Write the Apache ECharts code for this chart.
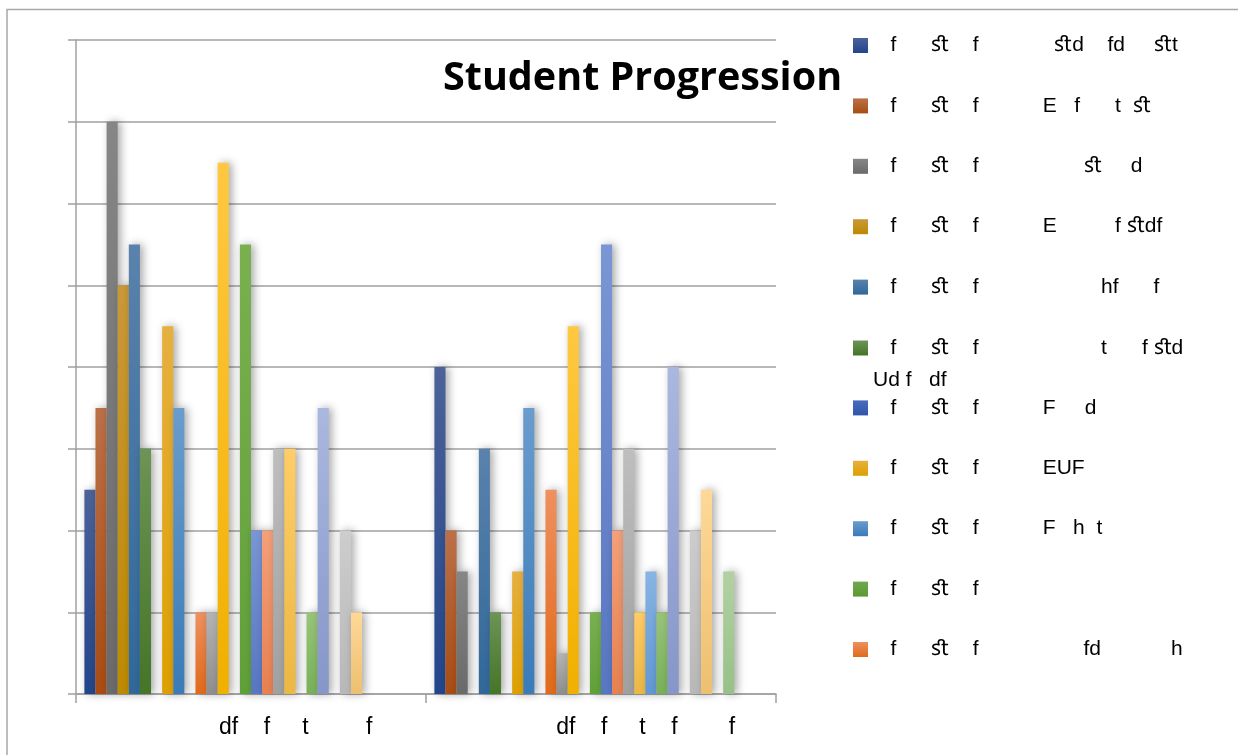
<!DOCTYPE html>
<html>
<head>
<meta charset="utf-8">
<script src="https://cdn.jsdelivr.net/npm/echarts@6/dist/echarts.min.js"></script>
<style>
html,body{margin:0;padding:0;background:#fff;}
#chart{width:1238px;height:755px;}
</style>
</head>
<body>
<div id="chart"></div>
<script>
// ---- data ----
const categories = [
  '              df    f     t         f',
  '              df    f     t    f        f'
];
const seriesNames = [
  '   f      ﬆ    f             ﬆd    fd     ﬆt',
  '   f      ﬆ    f           E   f      t  ﬆ',
  '   f      ﬆ    f                  ﬆ     d',
  '   f      ﬆ    f           E          f ﬆdf',
  '   f      ﬆ    f                     hf      f',
  '   f      ﬆ    f                     t      f ﬆd\nUd f   df',
  '   f      ﬆ    f           F     d',
  '   f      ﬆ    f           EUF',
  '   f      ﬆ    f           F   h  t',
  '   f      ﬆ    f',
  '   f      ﬆ    f                  fd            h',
  'Series 12','Series 13','Series 14','Series 15','Series 16','Series 17','Series 18',
  'Series 19','Series 20','Series 21','Series 22','Series 23','Series 24','Series 25',
  'Series 26','Series 27','Series 28','Series 29','Series 30'
];
const valuesFirstGroup  = [2.5,3.5,7,5,5.5,3,0,4.5,3.5,0,1,1,6.5,0,5.5,2,2,3,3,0,1,3.5,0,2,1,0,0,0,0,0];
const valuesSecondGroup = [4,2,1.5,0,3,1,0,1.5,3.5,0,2.5,0.5,4.5,0,1,5.5,2,3,1,1.5,1,4,0,2,2.5,0,1.5,0,0,0];
const yTicks = [0,1,2,3,4,5,6,7,8];

// ---- styles ----
const palette = [
  ['#4C6299','#22458A'],['#BC7048','#A84C12'],['#868686','#6A6A6A'],['#C9983A','#BD8A00'],
  ['#5A82AC','#306899'],['#6C9456','#457527'],['#4A6CC0','#2F55A5'],['#E6B040','#DDA000'],
  ['#6A9CCD','#3A7BB8'],['#6FA850','#5A9A32'],['#EE9060','#E06A1A'],['#B4B4B4','#8E8E8E'],
  ['#FFC840','#F0B000'],['#6BA5DA','#4080C0'],['#7AB050','#60A038'],['#7A96D4','#5876C2'],
  ['#F4A07A','#E88050'],['#BEBEBE','#A0A0A0'],['#FFCC66','#EBB843'],['#88B4E2','#6098D4'],
  ['#98C47A','#78B058'],['#AAB8E0','#8696C8'],['#F6B894','#EE9A6A'],['#CDCDCD','#B8B8B8'],
  ['#FFD898','#EDC070'],['#A8C8EA','#8AB2DE'],['#B2D1A2','#98C088'],['#2A4A80','#1E3864'],
  ['#9A4A18','#843C0C'],['#606060','#525252']
];

const chart = echarts.init(document.getElementById('chart'), null, {renderer: 'canvas'});

const series = seriesNames.map((name, i) => ({
  name: name,
  type: 'bar',
  data: [valuesFirstGroup[i], valuesSecondGroup[i]],
  barGap: '0%',
  barCategoryGap: '4.8%',
  itemStyle: {
    color: new echarts.graphic.LinearGradient(0, 0, 0, 1, [
      {offset: 0, color: palette[i][0]},
      {offset: 1, color: palette[i][1]}
    ]),
    shadowBlur: 8,
    shadowOffsetX: 3,
    shadowOffsetY: 0,
    shadowColor: 'rgba(0,0,0,0.35)'
  },
  emphasis: {disabled: true},
  animation: false
}));

const legendFont = 'Liberation Sans';
const legends = seriesNames.slice(0, 11).map((name, i) => {
  const multi = name.indexOf('\n') >= 0;
  return {
    data: [name],
    orient: 'vertical',
    left: 853,
    top: 35 + i * 60.4 - (multi ? 37 : 0),
    padding: 0,
    itemWidth: 15,
    itemHeight: 15,
    icon: 'rect',
    selectedMode: false,
    formatter: multi ? (n) => '\n' + n : undefined,
    itemStyle: {shadowBlur: 0, shadowOffsetX: 0, shadowOffsetY: 0, shadowColor: 'transparent'},
    textStyle: {
      fontFamily: legendFont,
      fontSize: 21,
      color: '#000',
      lineHeight: multi ? 32 : 21
    }
  };
});

const option = {
  backgroundColor: '#fff',
  animation: false,
  title: {
    text: 'Student Progression',
    left: 438,
    top: 54,
    textStyle: {fontFamily: 'Open Sans', fontWeight: 'bold', fontSize: 39.5, color: '#000'}
  },
  legend: legends,
  grid: {left: 76, right: 462, top: 40, bottom: 61, containLabel: false},
  xAxis: {
    type: 'category',
    data: categories,
    axisLine: {show: true, lineStyle: {color: '#A0A0A0', width: 1.5}},
    axisTick: {show: true, length: 9, lineStyle: {color: '#A0A0A0', width: 1.5}},
    axisLabel: {fontFamily: 'Liberation Sans', fontSize: 23, color: '#000', margin: 22}
  },
  yAxis: {
    type: 'value',
    min: yTicks[0],
    max: yTicks[yTicks.length - 1],
    interval: 1,
    axisLine: {show: true, lineStyle: {color: '#A0A0A0', width: 1.5}},
    axisTick: {show: true, length: 8, lineStyle: {color: '#A0A0A0', width: 1.5}},
    axisLabel: {show: false},
    splitLine: {show: true, lineStyle: {color: '#A0A0A0', width: 1.5}}
  },
  graphic: [{
    type: 'rect',
    shape: {x: 7, y: 9.5, width: 1400, height: 900},
    style: {fill: 'none', stroke: '#A8A8A8', lineWidth: 1.5},
    silent: true,
    z: -1
  }],
  series: series
};
chart.setOption(option);
</script>
</body>
</html>
